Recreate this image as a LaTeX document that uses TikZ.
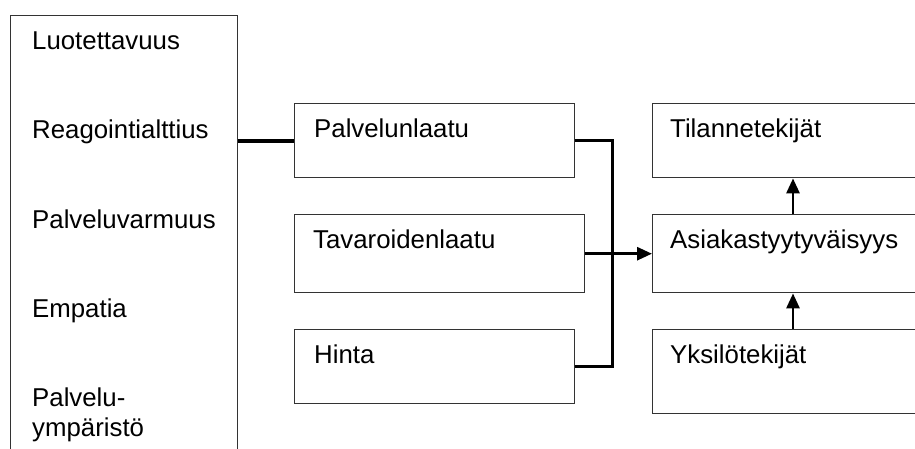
\documentclass[tikz,border=0pt]{standalone}
\usepackage{fontspec}
\setmainfont{Liberation Sans}
\usetikzlibrary{arrows.meta,positioning,calc}
\tikzset{
  mallibox/.style={draw=black!80, line width=1.4pt, anchor=north west, inner sep=0pt},
  mallitext/.style={anchor=base west, inner sep=0pt, align=left, font=\fontsize{25.8}{30}\selectfont},
  malliline/.style={line width=3pt},
  malliarrow/.style={-{Triangle[length=15pt,width=13pt]}, line width=2.8pt}
}

\begin{document}
\begin{tikzpicture}[x=1pt,y=-1pt]
\useasboundingbox (0,0) rectangle (915,448);
\clip (0,0) rectangle (915,448);
% laatikot
\node[mallibox, minimum width=227pt, minimum height=460pt] (ulottuvuudet) at (10,15) {};
\node[mallibox, minimum width=280pt, minimum height=74pt] (palvelunlaatu) at (294,103) {};
\node[mallibox, minimum width=290pt, minimum height=78pt] (tavaroidenlaatu) at (294,214) {};
\node[mallibox, minimum width=280pt, minimum height=74pt] (hinta) at (294,329) {};
\node[mallibox, minimum width=288pt, minimum height=74pt] (tilanne) at (652,103) {};
\node[mallibox, minimum width=288pt, minimum height=78pt] (asiakas) at (652,214) {};
\node[mallibox, minimum width=288pt, minimum height=84pt] (yksilo) at (652,329) {};
% tekstit
\node[mallitext] (luotettavuus) at (32,49) {Luotettavuus};
\node[mallitext] (reagointi) at (32,138) {Reagointialttius};
\node[mallitext] (varmuus) at (32,228) {Palveluvarmuus};
\node[mallitext] (empatia) at (32,317) {Empatia};
\node[mallitext] (ymparisto) at (32,436) {Palvelu-\\ympäristö};
\node[mallitext] (palvelunlaatu-t) at (314,137) {Palvelunlaatu};
\node[mallitext] (tavaroidenlaatu-t) at (313,248) {Tavaroidenlaatu};
\node[mallitext] (hinta-t) at (314,363) {Hinta};
\node[mallitext] (tilanne-t) at (670,137) {Tilannetekijät};
\node[mallitext] (asiakas-t) at (670,248) {Asiakastyytyväisyys};
\node[mallitext] (yksilo-t) at (670,363) {Yksilötekijät};
% yhteydet
\coordinate (haara) at (612,253);
\coordinate (nuolix) at (793,0);
\draw[malliline, line width=4pt] (ulottuvuudet.east |- palvelunlaatu.west) -- (palvelunlaatu.west);
\draw[malliline] (palvelunlaatu.east) -| (haara) |- (hinta.east);
\draw[malliarrow] (tavaroidenlaatu.east) -- (asiakas.west);
\draw[malliarrow] (asiakas.north -| nuolix) -- (tilanne.south -| nuolix);
\draw[malliarrow] (yksilo.north -| nuolix) -- (asiakas.south -| nuolix);
\end{tikzpicture}
\end{document}
